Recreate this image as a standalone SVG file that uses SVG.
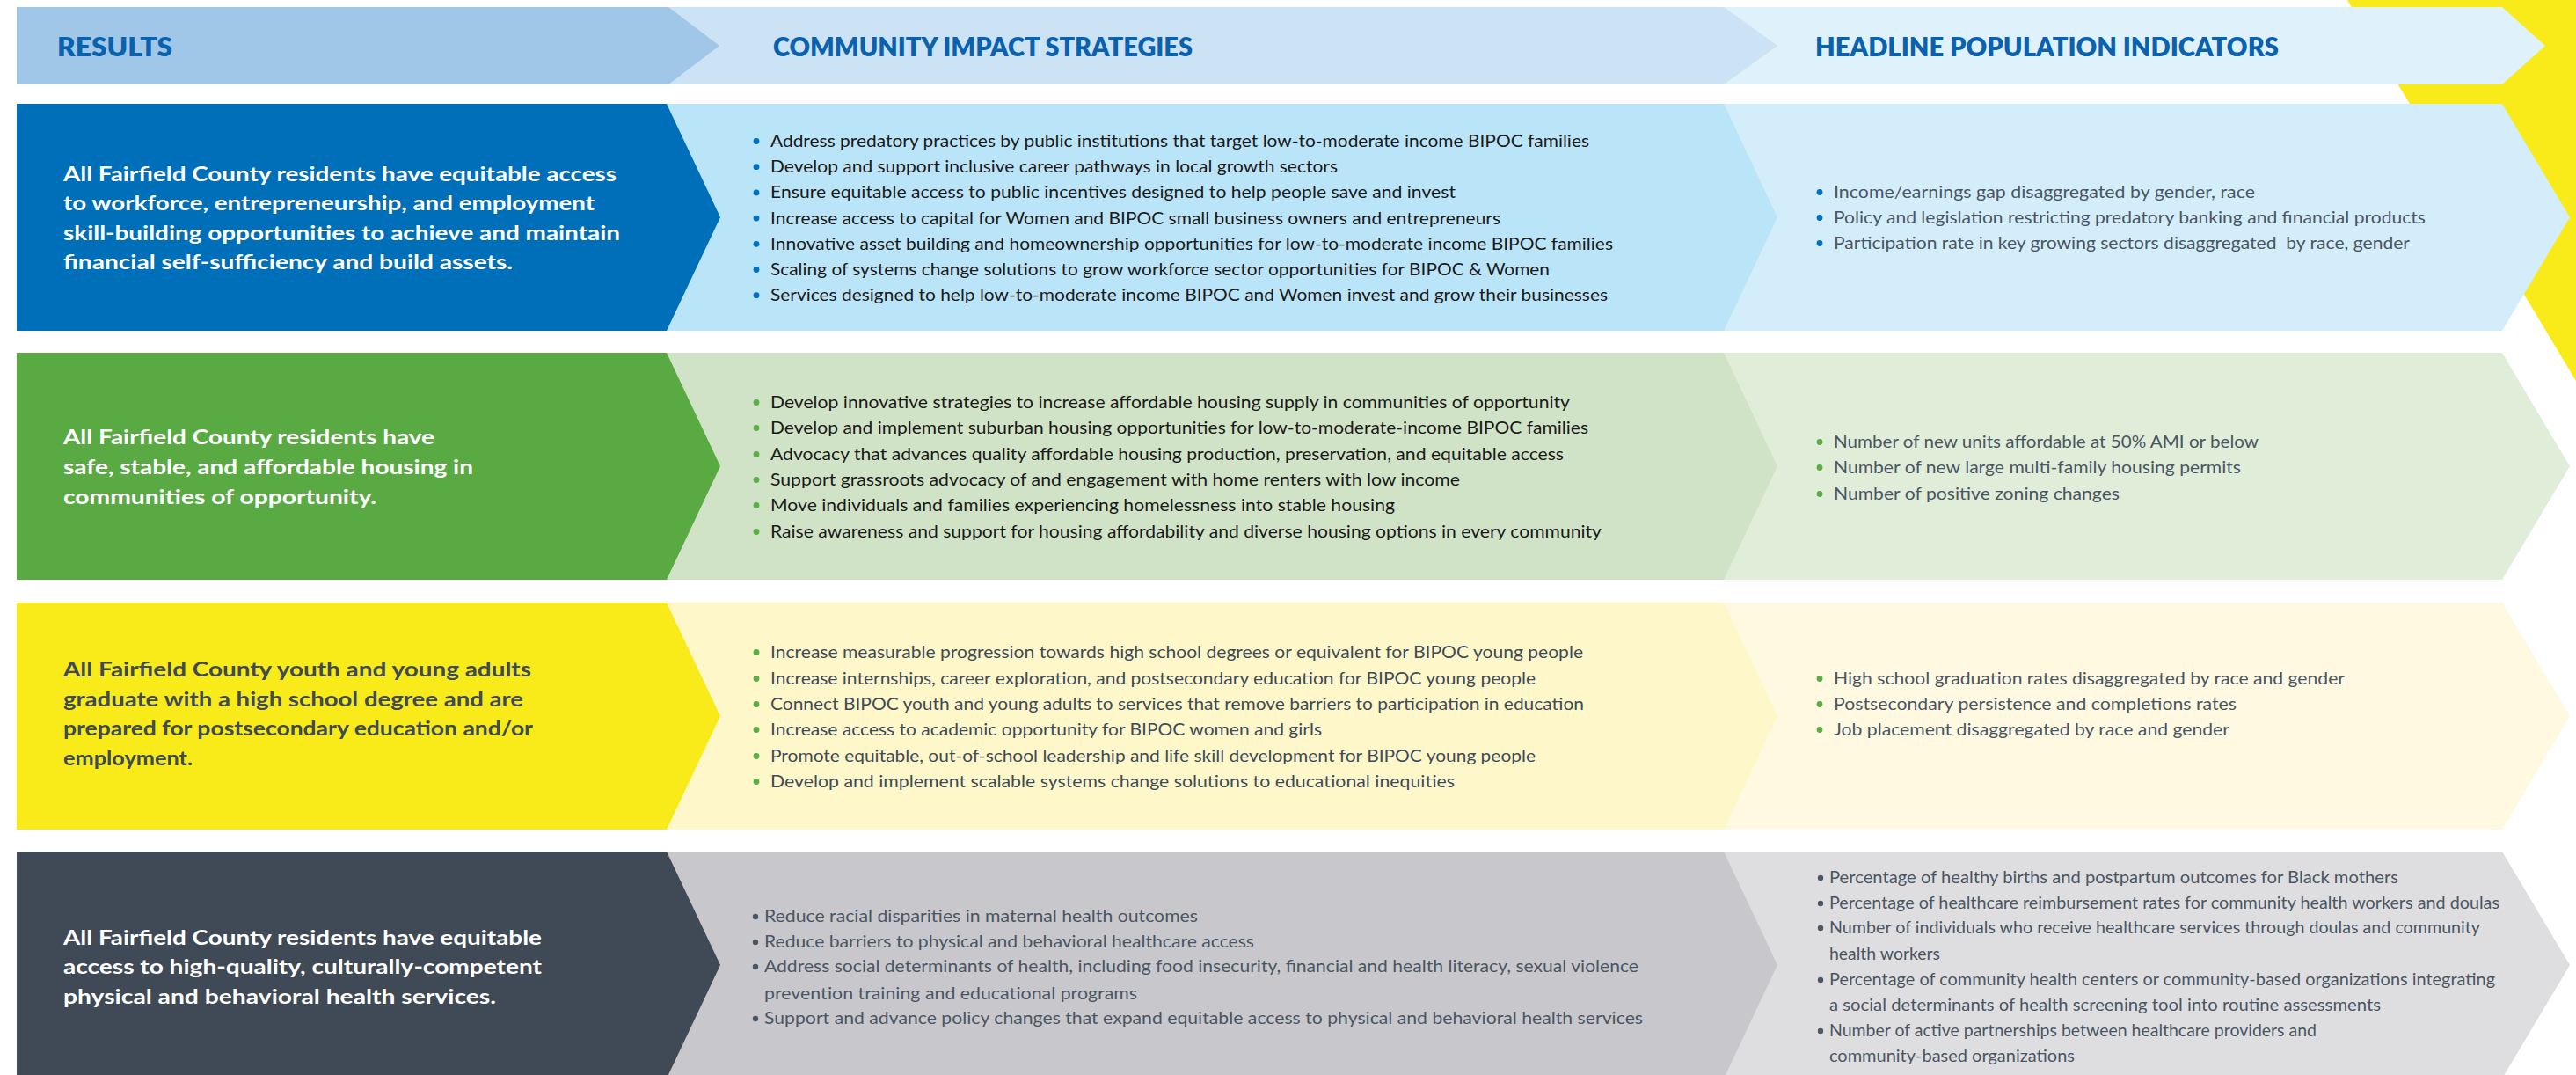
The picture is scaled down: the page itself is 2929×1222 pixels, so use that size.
<svg xmlns="http://www.w3.org/2000/svg" width="2929" height="1222" viewBox="0 0 2929 1222">
  <style>
    .hd { font-family: Lato, "Open Sans", "Liberation Sans", sans-serif; font-weight: 800; font-size: 31px; fill: #0A62AE; }
    .res { font-family: Lato, "Open Sans", "Liberation Sans", sans-serif; font-weight: 700; font-size: 23.5px; }
    .w { fill: #ffffff; }
    .dk { fill: #3E4A56; }
    .li { font-family: Lato, "Open Sans", "Liberation Sans", sans-serif; font-weight: 400; font-size: 20px; }
    .li4 { font-family: Lato, "Open Sans", "Liberation Sans", sans-serif; font-weight: 400; font-size: 19px; fill: #4A5663; }
    .blk { fill: #1A1A1A; }
    .sl { fill: #4A5663; }
    .sl2 { fill: #3F4B57; }
    .bb { fill: #0070C0; }
    .bg { fill: #5BAD45; }
    .bd { fill: #4A5663; }
  </style>

  <!-- yellow corner accent -->
  <polygon points="2669,0 2929,0 2929,433" fill="#F9EA1A"/>

  <!-- column headers -->
  <g id="header">
    <polygon points="1900,8 2845,8 2894,52 2845,96 1900,96" fill="#DFF1FB"/>
    <polygon points="700,8 1960,8 2021,52 1960,96 700,96" fill="#CCE2F5"/>
    <polygon points="19,8 760,8 818,52 760,96 19,96" fill="#A0C6E8"/>
    <text class="hd" x="65" y="64" textLength="131" lengthAdjust="spacingAndGlyphs">RESULTS</text>
    <text class="hd" x="879" y="64" textLength="477" lengthAdjust="spacingAndGlyphs">COMMUNITY IMPACT STRATEGIES</text>
    <text class="hd" x="2064" y="64" textLength="527" lengthAdjust="spacingAndGlyphs">HEADLINE POPULATION INDICATORS</text>
  </g>

  <!-- row 1: economic opportunity -->
  <g id="row-financial">
    <polygon points="1900,118 2845,118 2922,247 2845,376 1900,376" fill="#D3EDFA"/>
    <polygon points="700,118 1960,118 2021,247 1960,376 700,376" fill="#BAE4F8"/>
    <polygon points="19,118 758,118 819,247 758,376 19,376" fill="#006FBA"/>
    <g class="res w">
      <text x="72" y="206" textLength="629" lengthAdjust="spacingAndGlyphs">All Fairfield County residents have equitable access</text>
      <text x="72" y="239" textLength="604" lengthAdjust="spacingAndGlyphs">to workforce, entrepreneurship, and employment</text>
      <text x="72" y="273" textLength="633" lengthAdjust="spacingAndGlyphs">skill-building opportunities to achieve and maintain</text>
      <text x="72" y="306" textLength="511" lengthAdjust="spacingAndGlyphs">financial self-sufficiency and build assets.</text>
    </g>
    <g class="bb">
      <circle cx="860" cy="160.5" r="3.4"/><circle cx="860" cy="189.7" r="3.4"/><circle cx="860" cy="218.9" r="3.4"/>
      <circle cx="860" cy="248.1" r="3.4"/><circle cx="860" cy="277.3" r="3.4"/><circle cx="860" cy="306.5" r="3.4"/>
      <circle cx="860" cy="335.7" r="3.4"/>
      <circle cx="2069" cy="218.5" r="3.4"/><circle cx="2069" cy="247.5" r="3.4"/><circle cx="2069" cy="276.5" r="3.4"/>
    </g>
    <g class="li blk">
      <text x="876" y="167" textLength="931" lengthAdjust="spacingAndGlyphs">Address predatory practices by public institutions that target low-to-moderate income BIPOC families</text>
      <text x="876" y="196.2" textLength="645" lengthAdjust="spacingAndGlyphs">Develop and support inclusive career pathways in local growth sectors</text>
      <text x="876" y="225.4" textLength="779" lengthAdjust="spacingAndGlyphs">Ensure equitable access to public incentives designed to help people save and invest</text>
      <text x="876" y="254.6" textLength="830" lengthAdjust="spacingAndGlyphs">Increase access to capital for Women and BIPOC small business owners and entrepreneurs</text>
      <text x="876" y="283.8" textLength="958" lengthAdjust="spacingAndGlyphs">Innovative asset building and homeownership opportunities for low-to-moderate income BIPOC families</text>
      <text x="876" y="313" textLength="886" lengthAdjust="spacingAndGlyphs">Scaling of systems change solutions to grow workforce sector opportunities for BIPOC &amp; Women</text>
      <text x="876" y="342.2" textLength="952" lengthAdjust="spacingAndGlyphs">Services designed to help low-to-moderate income BIPOC and Women invest and grow their businesses</text>
    </g>
    <g class="li sl">
      <text x="2085" y="225" textLength="479" lengthAdjust="spacingAndGlyphs">Income/earnings gap disaggregated by gender, race</text>
      <text x="2085" y="254" textLength="673" lengthAdjust="spacingAndGlyphs">Policy and legislation restricting predatory banking and financial products</text>
      <text x="2085" y="283" textLength="655" lengthAdjust="spacingAndGlyphs" xml:space="preserve">Participation rate in key growing sectors disaggregated  by race, gender</text>
    </g>
  </g>

  <!-- row 2: housing -->
  <g id="row-housing">
    <polygon points="1900,401 2845,401 2922,530 2845,659 1900,659" fill="#E0EDD9"/>
    <polygon points="700,401 1960,401 2021,530 1960,659 700,659" fill="#D1E3C6"/>
    <polygon points="19,401 758,401 819,530 758,659 19,659" fill="#5AAA43"/>
    <g class="res w">
      <text x="72" y="505" textLength="422" lengthAdjust="spacingAndGlyphs">All Fairfield County residents have</text>
      <text x="72" y="539" textLength="466" lengthAdjust="spacingAndGlyphs">safe, stable, and affordable housing in</text>
      <text x="72" y="573" textLength="356" lengthAdjust="spacingAndGlyphs">communities of opportunity.</text>
    </g>
    <g class="bg">
      <circle cx="860" cy="457.5" r="3.4"/><circle cx="860" cy="486.5" r="3.4"/><circle cx="860" cy="516.5" r="3.4"/>
      <circle cx="860" cy="545.5" r="3.4"/><circle cx="860" cy="574.5" r="3.4"/><circle cx="860" cy="604.5" r="3.4"/>
      <circle cx="2069" cy="502.5" r="3.4"/><circle cx="2069" cy="531.5" r="3.4"/><circle cx="2069" cy="561.5" r="3.4"/>
    </g>
    <g class="li blk">
      <text x="876" y="464" textLength="909" lengthAdjust="spacingAndGlyphs">Develop innovative strategies to increase affordable housing supply in communities of opportunity</text>
      <text x="876" y="493" textLength="930" lengthAdjust="spacingAndGlyphs">Develop and implement suburban housing opportunities for low-to-moderate-income BIPOC families</text>
      <text x="876" y="523" textLength="902" lengthAdjust="spacingAndGlyphs">Advocacy that advances quality affordable housing production, preservation, and equitable access</text>
      <text x="876" y="552" textLength="784" lengthAdjust="spacingAndGlyphs">Support grassroots advocacy of and engagement with home renters with low income</text>
      <text x="876" y="581" textLength="710" lengthAdjust="spacingAndGlyphs">Move individuals and families experiencing homelessness into stable housing</text>
      <text x="876" y="611" textLength="945" lengthAdjust="spacingAndGlyphs">Raise awareness and support for housing affordability and diverse housing options in every community</text>
    </g>
    <g class="li sl">
      <text x="2085" y="509" textLength="483" lengthAdjust="spacingAndGlyphs">Number of new units affordable at 50% AMI or below</text>
      <text x="2085" y="538" textLength="463" lengthAdjust="spacingAndGlyphs">Number of new large multi-family housing permits</text>
      <text x="2085" y="568" textLength="325" lengthAdjust="spacingAndGlyphs">Number of positive zoning changes</text>
    </g>
  </g>

  <!-- row 3: education -->
  <g id="row-education">
    <polygon points="1900,685 2845,685 2922,814 2845,943 1900,943" fill="#FEF9E0"/>
    <polygon points="700,685 1960,685 2021,814 1960,943 700,943" fill="#FEF7C9"/>
    <polygon points="19,685 758,685 819,814 758,943 19,943" fill="#F9EA1A"/>
    <g class="res dk">
      <text x="72" y="769" textLength="532" lengthAdjust="spacingAndGlyphs">All Fairfield County youth and young adults</text>
      <text x="72" y="803" textLength="523" lengthAdjust="spacingAndGlyphs">graduate with a high school degree and are</text>
      <text x="72" y="836" textLength="534" lengthAdjust="spacingAndGlyphs">prepared for postsecondary education and/or</text>
      <text x="72" y="870" textLength="147" lengthAdjust="spacingAndGlyphs">employment.</text>
    </g>
    <g class="bg">
      <circle cx="860" cy="741.5" r="3.4"/><circle cx="860" cy="771.5" r="3.4"/><circle cx="860" cy="800.5" r="3.4"/>
      <circle cx="860" cy="829.5" r="3.4"/><circle cx="860" cy="859.5" r="3.4"/><circle cx="860" cy="888.5" r="3.4"/>
      <circle cx="2069" cy="771.5" r="3.4"/><circle cx="2069" cy="800.5" r="3.4"/><circle cx="2069" cy="829.5" r="3.4"/>
    </g>
    <g class="li sl2">
      <text x="876" y="748" textLength="924" lengthAdjust="spacingAndGlyphs">Increase measurable progression towards high school degrees or equivalent for BIPOC young people</text>
      <text x="876" y="778" textLength="870" lengthAdjust="spacingAndGlyphs">Increase internships, career exploration, and postsecondary education for BIPOC young people</text>
      <text x="876" y="807" textLength="925" lengthAdjust="spacingAndGlyphs">Connect BIPOC youth and young adults to services that remove barriers to participation in education</text>
      <text x="876" y="836" textLength="627" lengthAdjust="spacingAndGlyphs">Increase access to academic opportunity for BIPOC women and girls</text>
      <text x="876" y="866" textLength="870" lengthAdjust="spacingAndGlyphs">Promote equitable, out-of-school leadership and life skill development for BIPOC young people</text>
      <text x="876" y="895" textLength="778" lengthAdjust="spacingAndGlyphs">Develop and implement scalable systems change solutions to educational inequities</text>
    </g>
    <g class="li sl">
      <text x="2085" y="778" textLength="581" lengthAdjust="spacingAndGlyphs">High school graduation rates disaggregated by race and gender</text>
      <text x="2085" y="807" textLength="458" lengthAdjust="spacingAndGlyphs">Postsecondary persistence and completions rates</text>
      <text x="2085" y="836" textLength="450" lengthAdjust="spacingAndGlyphs">Job placement disaggregated by race and gender</text>
    </g>
  </g>

  <!-- row 4: health -->
  <g id="row-health">
    <polygon points="1900,968 2845,968 2922,1097 2845,1226 1900,1226" fill="#DEDEE0"/>
    <polygon points="700,968 1960,968 2021,1097 1960,1226 700,1226" fill="#C8C7CC"/>
    <polygon points="19,968 758,968 819,1097 758,1226 19,1226" fill="#3F4A56"/>
    <g class="res w">
      <text x="72" y="1074" textLength="544" lengthAdjust="spacingAndGlyphs">All Fairfield County residents have equitable</text>
      <text x="72" y="1107" textLength="544" lengthAdjust="spacingAndGlyphs">access to high-quality, culturally-competent</text>
      <text x="72" y="1141" textLength="492" lengthAdjust="spacingAndGlyphs">physical and behavioral health services.</text>
    </g>
    <g class="bd">
      <circle cx="859" cy="1042" r="3.2"/><circle cx="859" cy="1071" r="3.2"/><circle cx="859" cy="1099" r="3.2"/>
      <circle cx="859" cy="1158" r="3.2"/>
      <circle cx="2070" cy="998" r="3.2"/><circle cx="2070" cy="1027" r="3.2"/><circle cx="2070" cy="1055" r="3.2"/>
      <circle cx="2070" cy="1114" r="3.2"/><circle cx="2070" cy="1172" r="3.2"/>
    </g>
    <g class="li4">
      <text x="869" y="1048" textLength="493" lengthAdjust="spacingAndGlyphs">Reduce racial disparities in maternal health outcomes</text>
      <text x="869" y="1077" textLength="557" lengthAdjust="spacingAndGlyphs">Reduce barriers to physical and behavioral healthcare access</text>
      <text x="869" y="1105" textLength="994" lengthAdjust="spacingAndGlyphs">Address social determinants of health, including food insecurity, financial and health literacy, sexual violence</text>
      <text x="869" y="1136" textLength="424" lengthAdjust="spacingAndGlyphs">prevention training and educational programs</text>
      <text x="869" y="1164" textLength="999" lengthAdjust="spacingAndGlyphs">Support and advance policy changes that expand equitable access to physical and behavioral health services</text>
    </g>
    <g class="li4">
      <text x="2080" y="1004" textLength="647" lengthAdjust="spacingAndGlyphs">Percentage of healthy births and postpartum outcomes for Black mothers</text>
      <text x="2080" y="1033" textLength="762" lengthAdjust="spacingAndGlyphs">Percentage of healthcare reimbursement rates for community health workers and doulas</text>
      <text x="2080" y="1061" textLength="740" lengthAdjust="spacingAndGlyphs">Number of individuals who receive healthcare services through doulas and community</text>
      <text x="2080" y="1091" textLength="126" lengthAdjust="spacingAndGlyphs">health workers</text>
      <text x="2080" y="1120" textLength="757" lengthAdjust="spacingAndGlyphs">Percentage of community health centers or community-based organizations integrating</text>
      <text x="2080" y="1149" textLength="627" lengthAdjust="spacingAndGlyphs">a social determinants of health screening tool into routine assessments</text>
      <text x="2080" y="1178" textLength="554" lengthAdjust="spacingAndGlyphs">Number of active partnerships between healthcare providers and</text>
      <text x="2080" y="1207" textLength="279" lengthAdjust="spacingAndGlyphs">community-based organizations</text>
    </g>
  </g>
</svg>
